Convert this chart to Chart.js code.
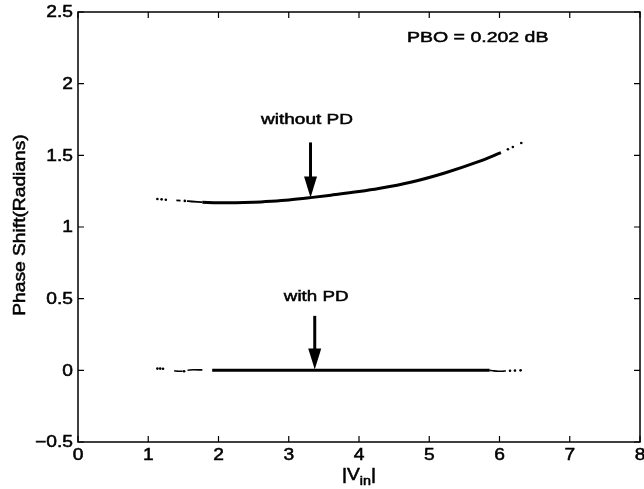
<!DOCTYPE html>
<html>
<head>
<meta charset="utf-8">
<script src="https://cdn.jsdelivr.net/npm/chart.js@4.4.1/dist/chart.umd.min.js"></script>
<style>
html, body { margin: 0; padding: 0; background: #fff; overflow: hidden; }
canvas { display: block; }
</style>
</head>
<body>
<canvas id="graphique" width="644" height="489"></canvas>
<script>
// ----------------------------------------------------------
// DONNEES
// ----------------------------------------------------------
const xTicks = [0, 1, 2, 3, 4, 5, 6, 7, 8];
const xTickLabels = ['0', '1', '2', '3', '4', '5', '6', '7', '8'];
const yTicks = [-0.5, 0, 0.5, 1, 1.5, 2, 2.5];
const yTickLabels = ['\u22120.5', '0', '0.5', '1', '1.5', '2', '2.5'];

// courbe "without PD" : trait principal
const sansPdTraitX = [1.77, 2.0, 2.25, 2.5, 2.75, 3.0, 3.31, 3.6, 4.0, 4.28, 4.75, 5.22, 5.69, 6.02];
const sansPdTraitY = [1.173, 1.170, 1.170, 1.173, 1.180, 1.189, 1.205, 1.222, 1.247, 1.268, 1.314, 1.377, 1.454, 1.519];
// bouts discontinus (null = coupure)
const sansPdBoutsX = [1.40, 1.46, 1.50, 1.55, 1.62, 1.70, 1.77];
const sansPdBoutsY = [1.186, 1.184, null, 1.181, 1.178, 1.175, 1.173];
// points isolés aux extrémités
const sansPdPointsX = [1.13, 1.19, 1.25, 1.52, 6.12, 6.19, 6.31];
const sansPdPointsY = [1.195, 1.193, 1.190, 1.182, 1.542, 1.558, 1.586];

// courbe "with PD"
const avecPdTraitX = [1.91, 2.5, 3.0, 3.5, 4.0, 4.5, 5.0, 5.5, 5.86];
const avecPdTraitY = [0.000, 0.000, 0.000, 0.000, 0.000, 0.000, 0.000, 0.000, 0.000];
const avecPdBoutsX = [1.37, 1.43, 1.49, 1.53, 1.56, 1.65, 1.77, 1.85, 1.91, 1.95, 5.86, 5.92, 5.98, 6.04, 6.09];
const avecPdBoutsY = [-0.004, -0.006, -0.006, null, 0.001, 0.004, 0.003, null, 0.000, null, 0.000, -0.004, -0.006, -0.006, -0.004];
const avecPdPointsX = [1.13, 1.17, 1.21, 1.51, 6.15, 6.22, 6.30];
const avecPdPointsY = [0.012, 0.012, 0.011, -0.006, -0.003, -0.002, 0.000];

// ----------------------------------------------------------
// OUTILS
// ----------------------------------------------------------
function versPoints(xs, ys) {
    return xs.map((x, i) => ({ x: x, y: ys[i] }));
}

// texte un peu élargi (police du scan plus large qu'Arial)
function texteLarge(ctx, txt, x, y, align, taille, etirement) {
    ctx.save();
    ctx.translate(x, y);
    ctx.scale(etirement, 1);
    ctx.font = taille + 'px "Liberation Sans", Arial, sans-serif';
    ctx.textAlign = align;
    ctx.textBaseline = 'middle';
    ctx.fillStyle = '#000';
    ctx.fillText(txt, 0, 0);
    ctx.strokeStyle = '#000';
    ctx.lineWidth = 0.5;
    ctx.strokeText(txt, 0, 0);
    ctx.restore();
}

function fleche(ctx, x, yHaut, yBas) {
    ctx.save();
    ctx.strokeStyle = '#000';
    ctx.fillStyle = '#000';
    ctx.lineWidth = 3;
    ctx.beginPath();
    ctx.moveTo(x, yHaut);
    ctx.lineTo(x, yBas - 18);
    ctx.stroke();
    ctx.beginPath();
    ctx.moveTo(x - 6.5, yBas - 21);
    ctx.lineTo(x + 6.5, yBas - 21);
    ctx.lineTo(x, yBas);
    ctx.closePath();
    ctx.fill();
    ctx.restore();
}

// ----------------------------------------------------------
// PLUGIN : cadre, graduations, textes
// ----------------------------------------------------------
const habillage = {
    id: 'habillage',
    afterDraw(chart) {
        const ctx = chart.ctx;
        const a = chart.chartArea;
        const sx = chart.scales.x;
        const sy = chart.scales.y;

        ctx.save();
        ctx.strokeStyle = '#000';
        ctx.lineWidth = 1.5;
        ctx.strokeRect(a.left, a.top, a.right - a.left, a.bottom - a.top);

        ctx.lineWidth = 1.2;
        ctx.beginPath();
        xTicks.forEach(v => {
            const px = sx.getPixelForValue(v);
            ctx.moveTo(px, a.bottom); ctx.lineTo(px, a.bottom - 6);
            ctx.moveTo(px, a.top); ctx.lineTo(px, a.top + 6);
        });
        yTicks.forEach(v => {
            const py = sy.getPixelForValue(v);
            ctx.moveTo(a.left, py); ctx.lineTo(a.left + 6, py);
            ctx.moveTo(a.right, py); ctx.lineTo(a.right - 6, py);
        });
        ctx.stroke();
        ctx.restore();

        // étiquettes des graduations
        xTicks.forEach((v, i) => {
            texteLarge(ctx, xTickLabels[i], sx.getPixelForValue(v), a.bottom + 14, 'center', 16, 1.2);
        });
        yTicks.forEach((v, i) => {
            texteLarge(ctx, yTickLabels[i], a.left - 5, sy.getPixelForValue(v) + 1, 'right', 16, 1.2);
        });

        // titre axe Y
        ctx.save();
        ctx.translate(21, (a.top + a.bottom) / 2 - 2);
        ctx.rotate(-Math.PI / 2);
        texteLarge(ctx, 'Phase Shift(Radians)', 0, 0, 'center', 16, 1.2);
        ctx.restore();

        // titre axe X : |V_in|
        ctx.save();
        ctx.font = '16px "Liberation Sans", Arial, sans-serif';
        const cx = (a.left + a.right) / 2;
        const e = 1.2;
        const w1 = ctx.measureText('|V').width * e;
        ctx.font = '12px "Liberation Sans", Arial, sans-serif';
        const w2 = ctx.measureText('in').width * e;
        ctx.font = '16px "Liberation Sans", Arial, sans-serif';
        const w3 = ctx.measureText('|').width * e;
        const x0 = cx - (w1 + w2 + w3) / 2;
        ctx.restore();
        texteLarge(ctx, '|V', x0, 476, 'left', 16, e);
        texteLarge(ctx, 'in', x0 + w1, 482, 'left', 12, e);
        texteLarge(ctx, '|', x0 + w1 + w2, 476, 'left', 16, e);

        // annotations
        texteLarge(ctx, 'PBO = 0.202 dB', sx.getPixelForValue(5.69), sy.getPixelForValue(2.32), 'center', 15, 1.3);
        texteLarge(ctx, 'without PD', sx.getPixelForValue(3.26), sy.getPixelForValue(1.745), 'center', 15, 1.27);
        texteLarge(ctx, 'with PD', sx.getPixelForValue(3.39), sy.getPixelForValue(0.51), 'center', 15, 1.25);

        fleche(ctx, sx.getPixelForValue(3.31), sy.getPixelForValue(1.59), sy.getPixelForValue(1.205));
        fleche(ctx, sx.getPixelForValue(3.37), sy.getPixelForValue(0.38), sy.getPixelForValue(0.005));
    }
};

// ----------------------------------------------------------
// GRAPHIQUE
// ----------------------------------------------------------
function jeuTrait(xs, ys, epaisseur) {
    return {
        data: versPoints(xs, ys),
        showLine: true,
        borderColor: '#000',
        borderWidth: epaisseur,
        pointRadius: 0,
        cubicInterpolationMode: 'monotone',
        spanGaps: false
    };
}
function jeuPoints(xs, ys) {
    return {
        data: versPoints(xs, ys),
        showLine: false,
        backgroundColor: '#000',
        borderWidth: 0,
        pointRadius: 1.3
    };
}

const ctx = document.getElementById('graphique').getContext('2d');
new Chart(ctx, {
    type: 'scatter',
    data: {
        datasets: [
            jeuTrait(sansPdTraitX, sansPdTraitY, 3),
            jeuTrait(sansPdBoutsX, sansPdBoutsY, 1.8),
            jeuPoints(sansPdPointsX, sansPdPointsY),
            jeuTrait(avecPdTraitX, avecPdTraitY, 3),
            jeuTrait(avecPdBoutsX, avecPdBoutsY, 1.6),
            jeuPoints(avecPdPointsX, avecPdPointsY)
        ]
    },
    options: {
        responsive: false,
        animation: false,
        layout: { padding: { left: 78, right: 1, top: 12, bottom: 47 } },
        plugins: { legend: { display: false }, tooltip: { enabled: false } },
        scales: {
            x: {
                type: 'linear', min: 0, max: 8,
                ticks: { display: false },
                grid: { display: false },
                border: { display: false },
                afterFit(s) { s.height = 0; }
            },
            y: {
                type: 'linear', min: -0.5, max: 2.5,
                ticks: { display: false },
                grid: { display: false },
                border: { display: false },
                afterFit(s) { s.width = 0; }
            }
        }
    },
    plugins: [habillage]
});
</script>
</body>
</html>
